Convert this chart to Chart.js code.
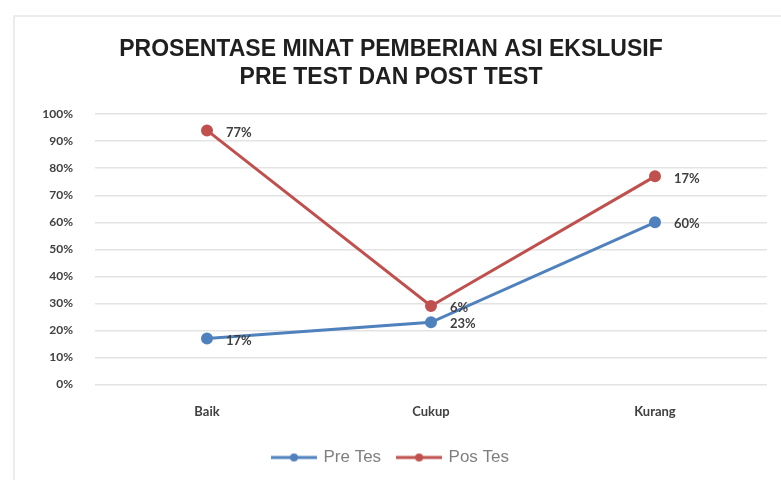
<!DOCTYPE html>
<html>
<head>
<meta charset="utf-8">
<script src="https://cdn.jsdelivr.net/npm/chart.js@4/dist/chart.umd.min.js"></script>
<style>
  html, body { margin: 0; padding: 0; background: #fff; }
  #wrap { position: absolute; left: 13px; top: 15px; width: 768px; height: 465px;
          border-left: 2px solid #ececec; border-top: 2px solid #ececec; box-sizing: border-box; }
  canvas { display: block; }
</style>
</head>
<body>
<div id="wrap"><canvas id="myChart"></canvas></div>
<script>
const categories = ['Baik', 'Cukup', 'Kurang'];
const preTes = [17, 23, 60];
const posTes = [77, 6, 17]; // stacked on top of Pre Tes
const yTicks = [0, 10, 20, 30, 40, 50, 60, 70, 80, 90, 100];
const titleLines = ['PROSENTASE MINAT PEMBERIAN ASI EKSLUSIF', 'PRE TEST DAN POST TEST'];

const blue = '#4f81bd';
const red = '#c0504d';

// small legend marker: line with a dot in the middle
function legendMarker(color) {
    const c = document.createElement('canvas');
    c.width = 46; c.height = 10;
    const g = c.getContext('2d');
    g.strokeStyle = color; g.lineWidth = 3;
    g.beginPath(); g.moveTo(0, 5); g.lineTo(46, 5); g.stroke();
    g.fillStyle = color;
    g.beginPath(); g.arc(23, 5, 4, 0, Math.PI * 2); g.fill();
    return c;
}

// value labels drawn right of each point
const valueLabels = {
    id: 'valueLabels',
    afterDatasetsDraw(chart) {
        const ctx = chart.ctx;
        ctx.save();
        ctx.font = 'bold 13px Lato, "Liberation Sans", sans-serif';
        ctx.fillStyle = '#404040';
        ctx.textBaseline = 'middle';
        chart.data.datasets.forEach((ds, i) => {
            chart.getDatasetMeta(i).data.forEach((pt, j) => {
                ctx.fillText(ds.data[j] + '%', pt.x + 19, pt.y + 2);
            });
        });
        ctx.restore();
    }
};

const ctx = document.getElementById('myChart').getContext('2d');
const myChart = new Chart(ctx, {
    type: 'line',
    data: {
        labels: categories,
        datasets: [{
            label: 'Pre Tes',
            data: preTes,
            borderColor: blue,
            backgroundColor: blue,
            borderWidth: 3,
            pointRadius: 4.5,
            fill: false,
            tension: 0
        }, {
            label: 'Pos Tes',
            data: posTes,
            borderColor: red,
            backgroundColor: red,
            borderWidth: 3,
            pointRadius: 4.5,
            fill: false,
            tension: 0
        }]
    },
    options: {
        responsive: true,
        maintainAspectRatio: false,
        animation: false,
        layout: { padding: { left: 0, right: 14, top: 15, bottom: 4 } },
        plugins: {
            title: {
                display: true,
                text: titleLines,
                color: '#1f1f1f',
                font: { family: '"Liberation Sans", Arial, sans-serif', size: 23, weight: 'bold', lineHeight: 1.2 },
                padding: { top: 4, bottom: 23 }
            },
            legend: {
                position: 'bottom',
                labels: {
                    usePointStyle: true,
                    pointStyleWidth: 42,
                    color: '#7f7f7f',
                    font: { family: '"Liberation Sans", sans-serif', size: 17 },
                    padding: 17,
                    generateLabels(chart) {
                        return chart.data.datasets.map((ds, i) => ({
                            text: ds.label,
                            fontColor: '#7f7f7f',
                            pointStyle: legendMarker(ds.borderColor),
                            strokeStyle: ds.borderColor,
                            fillStyle: ds.borderColor,
                            lineWidth: 0,
                            datasetIndex: i
                        }));
                    }
                }
            },
            tooltip: { enabled: false }
        },
        scales: {
            x: {
                offset: true,
                grid: { display: false },
                border: { display: false },
                ticks: {
                    color: '#404040',
                    padding: 12,
                    font: { family: 'Lato, "Liberation Sans", sans-serif', size: 13, weight: 'bold' }
                }
            },
            y: {
                stacked: true,
                min: 0,
                max: 100,
                afterFit(scale) { scale.width = 80; },
                afterBuildTicks(scale) { scale.ticks = yTicks.map(v => ({ value: v })); },
                grid: { color: '#e3e3e3', lineWidth: 1.5, drawTicks: false },
                border: { display: false },
                ticks: {
                    color: '#404040',
                    padding: 22,
                    font: { family: 'Lato, "Liberation Sans", sans-serif', size: 12, weight: 'bold' },
                    callback: v => v + '%'
                }
            }
        }
    },
    plugins: [valueLabels]
});
</script>
</body>
</html>
